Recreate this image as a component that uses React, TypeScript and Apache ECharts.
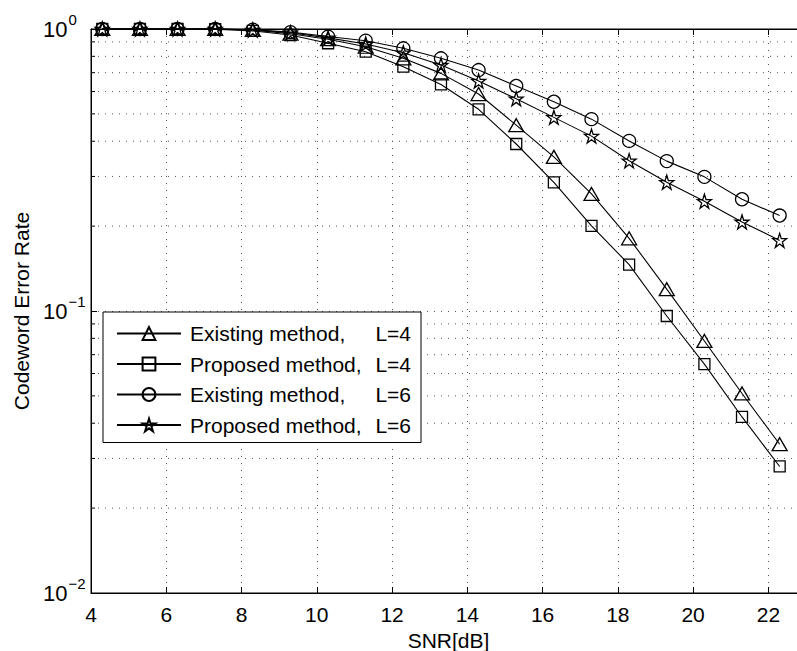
import React, { useEffect, useRef } from "react";
import * as echarts from "echarts";

// SNR values (dB)
const snr = [4.3, 5.3, 6.3, 7.3, 8.3, 9.3, 10.3, 11.3, 12.3, 13.3, 14.3, 15.3, 16.3, 17.3, 18.3, 19.3, 20.3, 21.3, 22.3];

// Codeword error rate per series
const existingL4 = [1, 1, 1, 1, 0.992, 0.962, 0.92, 0.865, 0.787, 0.696, 0.588, 0.456, 0.352, 0.26, 0.181, 0.1195, 0.0783, 0.051, 0.0337];
const proposedL4 = [1, 1, 1, 0.998, 0.985, 0.952, 0.89, 0.831, 0.735, 0.636, 0.519, 0.391, 0.286, 0.2005, 0.146, 0.096, 0.0648, 0.0421, 0.0281];
const existingL6 = [1, 1, 1, 1, 0.995, 0.975, 0.94, 0.909, 0.854, 0.787, 0.715, 0.628, 0.552, 0.479, 0.401, 0.34, 0.299, 0.249, 0.218];
const proposedL6 = [1, 1, 1, 1, 0.992, 0.97, 0.93, 0.885, 0.824, 0.745, 0.654, 0.566, 0.486, 0.417, 0.341, 0.286, 0.245, 0.207, 0.178];

const seriesNames = ["Existing method, L=4", "Proposed method, L=4", "Existing method, L=6", "Proposed method, L=6"];

// minor log grid values
const minorGrid = [0.02, 0.03, 0.04, 0.05, 0.06, 0.07, 0.08, 0.09, 0.2, 0.3, 0.4, 0.5, 0.6, 0.7, 0.8, 0.9];

const X_MIN = 4;
const X_MAX = 23;
const FONT = "'Liberation Sans', Arial, Helvetica, sans-serif";
const FS = 21;

const STAR = "path://M50,0 L61.2,34.5 L97.6,34.5 L68.2,55.9 L79.4,90.5 L50,69.1 L20.6,90.5 L31.8,55.9 L2.4,34.5 L38.8,34.5 Z";

export default function App() {
  const ref = useRef<HTMLDivElement>(null);

  useEffect(() => {
    if (!ref.current) return;
    const chart = echarts.init(ref.current, undefined, { renderer: "svg" });

    const mk = (name: string, vals: number[], symbol: string, size: any) => ({
      name,
      type: "line",
      data: snr.map((x, i) => [x, vals[i]]),
      symbol,
      symbolSize: size,
      showSymbol: true,
      clip: false,
      lineStyle: { color: "#000", width: 1.1 },
      itemStyle: { color: "rgba(255,255,255,0)", borderColor: "#000", borderWidth: 1.3 },
      z: 5,
    });

    const gridDot = { color: "#555", width: 1, type: [1, 6] as any };

    const option: any = {
      animation: false,
      textStyle: { fontFamily: FONT },
      grid: {
        left: 91,
        top: 29,
        width: 715,
        height: 564,
        show: true,
        borderColor: "#000",
        borderWidth: 1,
        outerBoundsMode: "none",
        containLabel: false,
      },
      xAxis: [
        {
          type: "value",
          min: X_MIN,
          max: X_MAX,
          interval: 2,
          position: "bottom",
          axisLine: { show: true, onZero: false, lineStyle: { color: "#000", width: 1 } },
          axisTick: { show: true, inside: true, length: 6, lineStyle: { color: "#000" } },
          axisLabel: { color: "#000", fontSize: FS, fontFamily: FONT, margin: 11, showMaxLabel: false },
          splitLine: { show: true, lineStyle: gridDot },
          name: "SNR[dB]",
          nameLocation: "middle",
          nameGap: 36,
          nameTextStyle: { color: "#000", fontSize: FS, fontFamily: FONT },
        },
        {
          type: "value",
          min: X_MIN,
          max: X_MAX,
          interval: 2,
          position: "top",
          axisLine: { show: true, onZero: false, lineStyle: { color: "#000", width: 1 } },
          axisTick: { show: true, inside: true, length: 6, lineStyle: { color: "#000" } },
          axisLabel: { show: false },
          splitLine: { show: false },
        },
      ],
      yAxis: [
        {
          type: "log",
          logBase: 10,
          min: 0.01,
          max: 1,
          position: "left",
          axisLine: { show: true, onZero: false, lineStyle: { color: "#000", width: 1 } },
          axisTick: { show: true, inside: true, length: 6, lineStyle: { color: "#000" } },
          splitLine: { show: true, lineStyle: gridDot },
          axisLabel: {
            color: "#000",
            margin: 48,
            align: "left",
            formatter: (v: number) => {
              const e = Math.round(Math.log10(v));
              return `{b|10}{s|${e === 0 ? "0" : "\u2212" + -e}}`;
            },
            rich: {
              b: { fontSize: 22, fontFamily: FONT, color: "#000" },
              s: { fontSize: 15, fontFamily: FONT, color: "#000", padding: [0, 0, 20, 1] },
            },
          },
          name: "Codeword Error Rate",
          nameLocation: "middle",
          nameGap: 58,
          nameTextStyle: { color: "#000", fontSize: FS, fontFamily: FONT },
        },
        {
          type: "log",
          logBase: 10,
          min: 0.01,
          max: 1,
          position: "right",
          axisLine: { show: true, onZero: false, lineStyle: { color: "#000", width: 1 } },
          axisTick: { show: true, inside: true, length: 6, lineStyle: { color: "#000" } },
          axisLabel: { show: false },
          splitLine: { show: false },
        },
      ],
      legend: {
        data: seriesNames,
        orient: "vertical",
        left: 103,
        top: 312,
        backgroundColor: "#fff",
        borderColor: "#000",
        borderWidth: 1,
        borderRadius: 0,
        padding: [11, 10, 7, 13],
        itemGap: 9.5,
        itemWidth: 64,
        itemHeight: 16,
        selectedMode: false,
        textStyle: {
          color: "#000",
          fontSize: FS,
          fontFamily: FONT,
          rich: {
            a: { fontSize: FS, fontFamily: FONT, color: "#000", width: 181, padding: [0, 0, 0, 4] },
            b: { fontSize: FS, fontFamily: FONT, color: "#000", width: 40, align: "right" },
          },
        },
        formatter: (name: string) => {
          const parts = name.split(", ");
          return `{a|${parts[0]},}{b|${parts[1]}}`;
        },
        z: 10,
      },
      series: [
        {
          type: "custom",
          name: "minorGrid",
          xAxisIndex: 0,
          yAxisIndex: 0,
          silent: true,
          z: 1,
          data: minorGrid.map((v) => [X_MIN, v]),
          renderItem: (params: any, api: any) => {
            const cs = params.coordSys;
            const p = api.coord([X_MIN, api.value(1)]);
            const y = p[1];
            return {
              type: "group",
              children: [
                {
                  type: "line",
                  shape: { x1: cs.x, y1: y, x2: cs.x + cs.width, y2: y },
                  style: { stroke: "#555", lineWidth: 1, lineDash: [1, 6] },
                },
                {
                  type: "line",
                  shape: { x1: cs.x, y1: y, x2: cs.x + 4, y2: y },
                  style: { stroke: "#000", lineWidth: 1 },
                },
                {
                  type: "line",
                  shape: { x1: cs.x + cs.width - 4, y1: y, x2: cs.x + cs.width, y2: y },
                  style: { stroke: "#000", lineWidth: 1 },
                },
              ],
            };
          },
        },
        mk(seriesNames[0], existingL4, "triangle", [15, 13]),
        mk(seriesNames[1], proposedL4, "rect", 11),
        mk(seriesNames[2], existingL6, "circle", 13),
        mk(seriesNames[3], proposedL6, STAR, 14),
      ],
    };

    chart.setOption(option);
    return () => chart.dispose();
  }, []);

  return (
    <div
      ref={ref}
      style={{ position: "fixed", left: 0, top: 0, width: 797, height: 651, background: "#fff" }}
    />
  );
}
